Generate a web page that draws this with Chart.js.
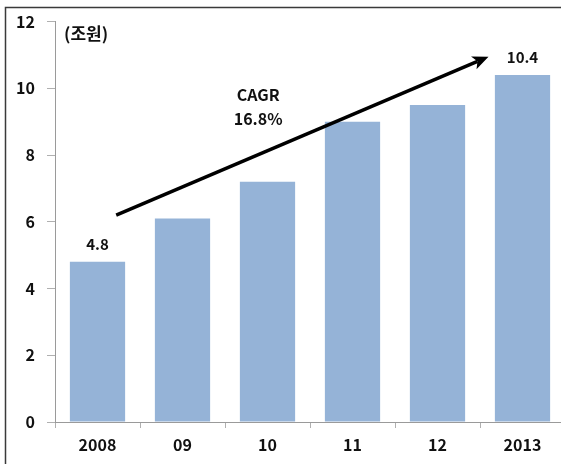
<!DOCTYPE html>
<html>
<head>
<meta charset="utf-8">
<script src="https://cdn.jsdelivr.net/npm/chart.js@4/dist/chart.umd.min.js"></script>
<style>
  html, body { margin: 0; padding: 0; background: #fff; overflow: hidden; }
  #wrap { width: 561px; height: 464px; overflow: hidden; position: relative; }
  canvas { display: block; }
</style>
</head>
<body>
<div id="wrap"><canvas id="c" width="566" height="464" style="width:566px;height:464px"></canvas></div>
<script>
// Market size by year (unit: trillion won)
const years = ['2008', '09', '10', '11', '12', '2013'];
const values = [4.8, 6.1, 7.2, 9.0, 9.5, 10.4];
const labelledBars = [0, 5];
const yTicks = [0, 2, 4, 6, 8, 10, 12];
const unitText = '(조원)';
const growthText = ['CAGR', '16.8%'];
// Growth arrow endpoints in data space: [category position, value]
const arrowFrom = [0.22, 6.2];
const arrowTo = [4.6, 10.95];

const FONT = '"Noto Sans CJK KR", "Noto Sans", sans-serif';
const AXIS_GREY = '#9a9a9a';

const decorations = {
  id: 'decorations',
  afterDatasetsDraw(chart) {
    const { ctx, chartArea, scales: { x, y } } = chart;
    ctx.save();

    // Outer frame (left and top edges)
    ctx.strokeStyle = '#3a3a3a';
    ctx.lineWidth = 1.5;
    ctx.beginPath();
    ctx.moveTo(5.5, 470);
    ctx.lineTo(5.5, 7.5);
    ctx.lineTo(570, 7.5);
    ctx.stroke();

    // Value labels above first and last bars
    ctx.fillStyle = '#111';
    ctx.font = 'bold 15px ' + FONT;
    ctx.textAlign = 'center';
    ctx.textBaseline = 'middle';
    labelledBars.forEach(i => {
      ctx.fillText(values[i].toFixed(1), x.getPixelForValue(i), y.getPixelForValue(values[i]) - 18);
    });

    // Unit caption
    ctx.font = 'bold 17px ' + FONT;
    ctx.textAlign = 'left';
    ctx.fillText(unitText, chartArea.left + 9, chartArea.top + 12);

    // Growth rate annotation
    ctx.font = 'bold 16px ' + FONT;
    ctx.textAlign = 'center';
    ctx.fillText(growthText[0], x.getPixelForValue(1.89), y.getPixelForValue(9.8));
    ctx.fillText(growthText[1], x.getPixelForValue(1.89), y.getPixelForValue(9.08));

    // Growth arrow
    const x1 = x.getPixelForValue(arrowFrom[0]), y1 = y.getPixelForValue(arrowFrom[1]);
    const x2 = x.getPixelForValue(arrowTo[0]), y2 = y.getPixelForValue(arrowTo[1]);
    const ang = Math.atan2(y2 - y1, x2 - x1);
    const headLen = 16, headHalf = 7;
    const bx = x2 - headLen * Math.cos(ang), by = y2 - headLen * Math.sin(ang);
    ctx.strokeStyle = '#000';
    ctx.lineWidth = 3.5;
    ctx.lineCap = 'butt';
    ctx.beginPath();
    ctx.moveTo(x1, y1);
    ctx.lineTo(bx + 4 * Math.cos(ang), by + 4 * Math.sin(ang));
    ctx.stroke();
    ctx.fillStyle = '#000';
    ctx.beginPath();
    ctx.moveTo(x2, y2);
    ctx.lineTo(bx + headHalf * Math.sin(ang), by - headHalf * Math.cos(ang));
    ctx.lineTo(bx + 4 * Math.cos(ang), by + 4 * Math.sin(ang));
    ctx.lineTo(bx - headHalf * Math.sin(ang), by + headHalf * Math.cos(ang));
    ctx.closePath();
    ctx.fill();

    ctx.restore();
  }
};

new Chart(document.getElementById('c'), {
  type: 'bar',
  data: {
    labels: years,
    datasets: [{
      data: values,
      backgroundColor: '#95b3d7',
      borderWidth: 0,
      categoryPercentage: 1,
      barPercentage: 0.65
    }]
  },
  options: {
    responsive: false,
    animation: false,
    devicePixelRatio: 1,
    layout: { padding: { top: 20, right: 1, left: 0, bottom: 0 } },
    plugins: { legend: { display: false }, tooltip: { enabled: false } },
    scales: {
      x: {
        afterFit(s) { s.height = 42; },
        grid: {
          offset: true,
          drawOnChartArea: false,
          drawTicks: true,
          tickLength: 6,
          color: '#b0b0b0'
        },
        border: { display: true, color: AXIS_GREY, width: 1 },
        ticks: {
          color: '#111',
          padding: 7,
          font: { family: FONT, size: 16, weight: 'bold' },
          maxRotation: 0
        }
      },
      y: {
        min: 0,
        max: 12,
        afterFit(s) { s.width = 55; },
        afterBuildTicks(s) { s.ticks = yTicks.map(v => ({ value: v })); },
        grid: {
          drawOnChartArea: false,
          drawTicks: true,
          tickLength: 8,
          color: '#b0b0b0'
        },
        border: { display: true, color: AXIS_GREY, width: 1 },
        ticks: {
          color: '#111',
          padding: 12,
          font: { family: FONT, size: 16, weight: 'bold' }
        }
      }
    }
  },
  plugins: [decorations]
});
</script>
</body>
</html>
